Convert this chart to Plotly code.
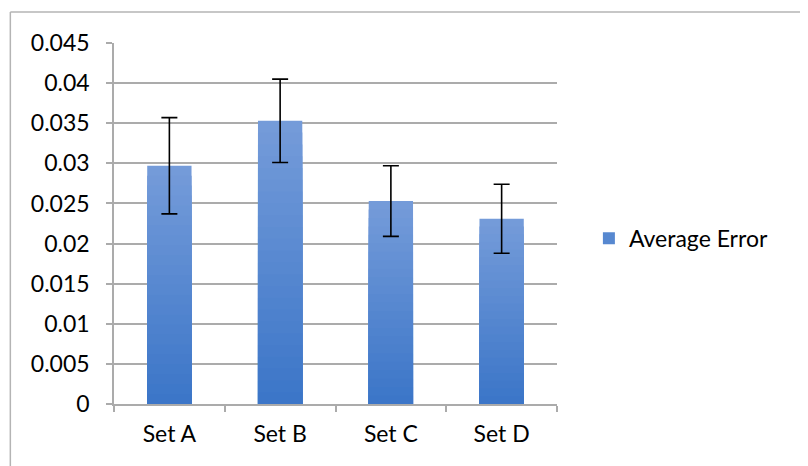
import plotly.graph_objects as go

categories = ["Set A", "Set B", "Set C", "Set D"]
avg_error = [0.0297, 0.0353, 0.0253, 0.0231]
err_plus_minus = [0.0060, 0.0052, 0.0044, 0.0043]
y_ticks = [0, 0.005, 0.01, 0.015, 0.02, 0.025, 0.03, 0.035, 0.04, 0.045]
y_tick_labels = ["0", "0.005", "0.01", "0.015", "0.02", "0.025", "0.03", "0.035", "0.04", "0.045"]

FONT = "Lato, Calibri, Carlito, sans-serif"
top_rgb = (116, 155, 217)
bot_rgb = (60, 118, 200)
N = 24

fig = go.Figure()
for k in range(N):
    frac = 1 - k / N
    t = k / (N - 1)
    c = tuple(round(top_rgb[i] + (bot_rgb[i] - top_rgb[i]) * t) for i in range(3))
    fig.add_trace(go.Bar(
        x=categories,
        y=[v * frac for v in avg_error],
        marker=dict(color="rgb(%d,%d,%d)" % c, line=dict(width=0)),
        name="Average Error",
        showlegend=(k == N // 2),
        hoverinfo="skip",
    ))

fig.add_trace(go.Scatter(
    x=categories, y=avg_error, mode="markers",
    marker=dict(size=1, opacity=0),
    error_y=dict(type="data", array=err_plus_minus, visible=True,
                 color="black", thickness=1.6, width=8),
    showlegend=False, hoverinfo="skip",
))

fig.update_layout(
    width=800, height=458,
    margin=dict(l=106, r=251, t=35, b=62),
    paper_bgcolor="white", plot_bgcolor="white",
    barmode="overlay", bargap=0.6,
    font=dict(family=FONT, size=23, color="black"),
    showlegend=True,
    legend=dict(x=1.072, y=0.459, xanchor="left", yanchor="middle",
                font=dict(family=FONT, size=23, color="black"),
                bgcolor="rgba(0,0,0,0)", itemwidth=30),
    xaxis=dict(
        showline=True, linecolor="#ABABAB", linewidth=1.5,
        ticks="outside", tickson="boundaries", ticklen=6, tickcolor="#ABABAB", tickwidth=1.5,
        ticklabelstandoff=9,
        showgrid=False, tickfont=dict(family=FONT, size=23, color="black"),
    ),
    yaxis=dict(
        range=[0, 0.045], tickvals=y_ticks, ticktext=y_tick_labels,
        showline=True, linecolor="#ABABAB", linewidth=1.5,
        ticks="outside", ticklen=6, tickcolor="#ABABAB", tickwidth=1.5,
        ticklabelstandoff=12,
        showgrid=True, gridcolor="#ABABAB", gridwidth=1.5, zeroline=False,
        tickfont=dict(family=FONT, size=23, color="black"),
    ),
    shapes=[
        dict(type="line", xref="paper", yref="paper", x0=-0.234, x1=1.55, y0=1.086, y1=1.086,
             line=dict(color="#B4B4B4", width=1.5)),
        dict(type="line", xref="paper", yref="paper", x0=-0.234, x1=-0.234, y0=1.086, y1=-0.3,
             line=dict(color="#B4B4B4", width=1.5)),
    ],
)

fig.write_html("out.html")
